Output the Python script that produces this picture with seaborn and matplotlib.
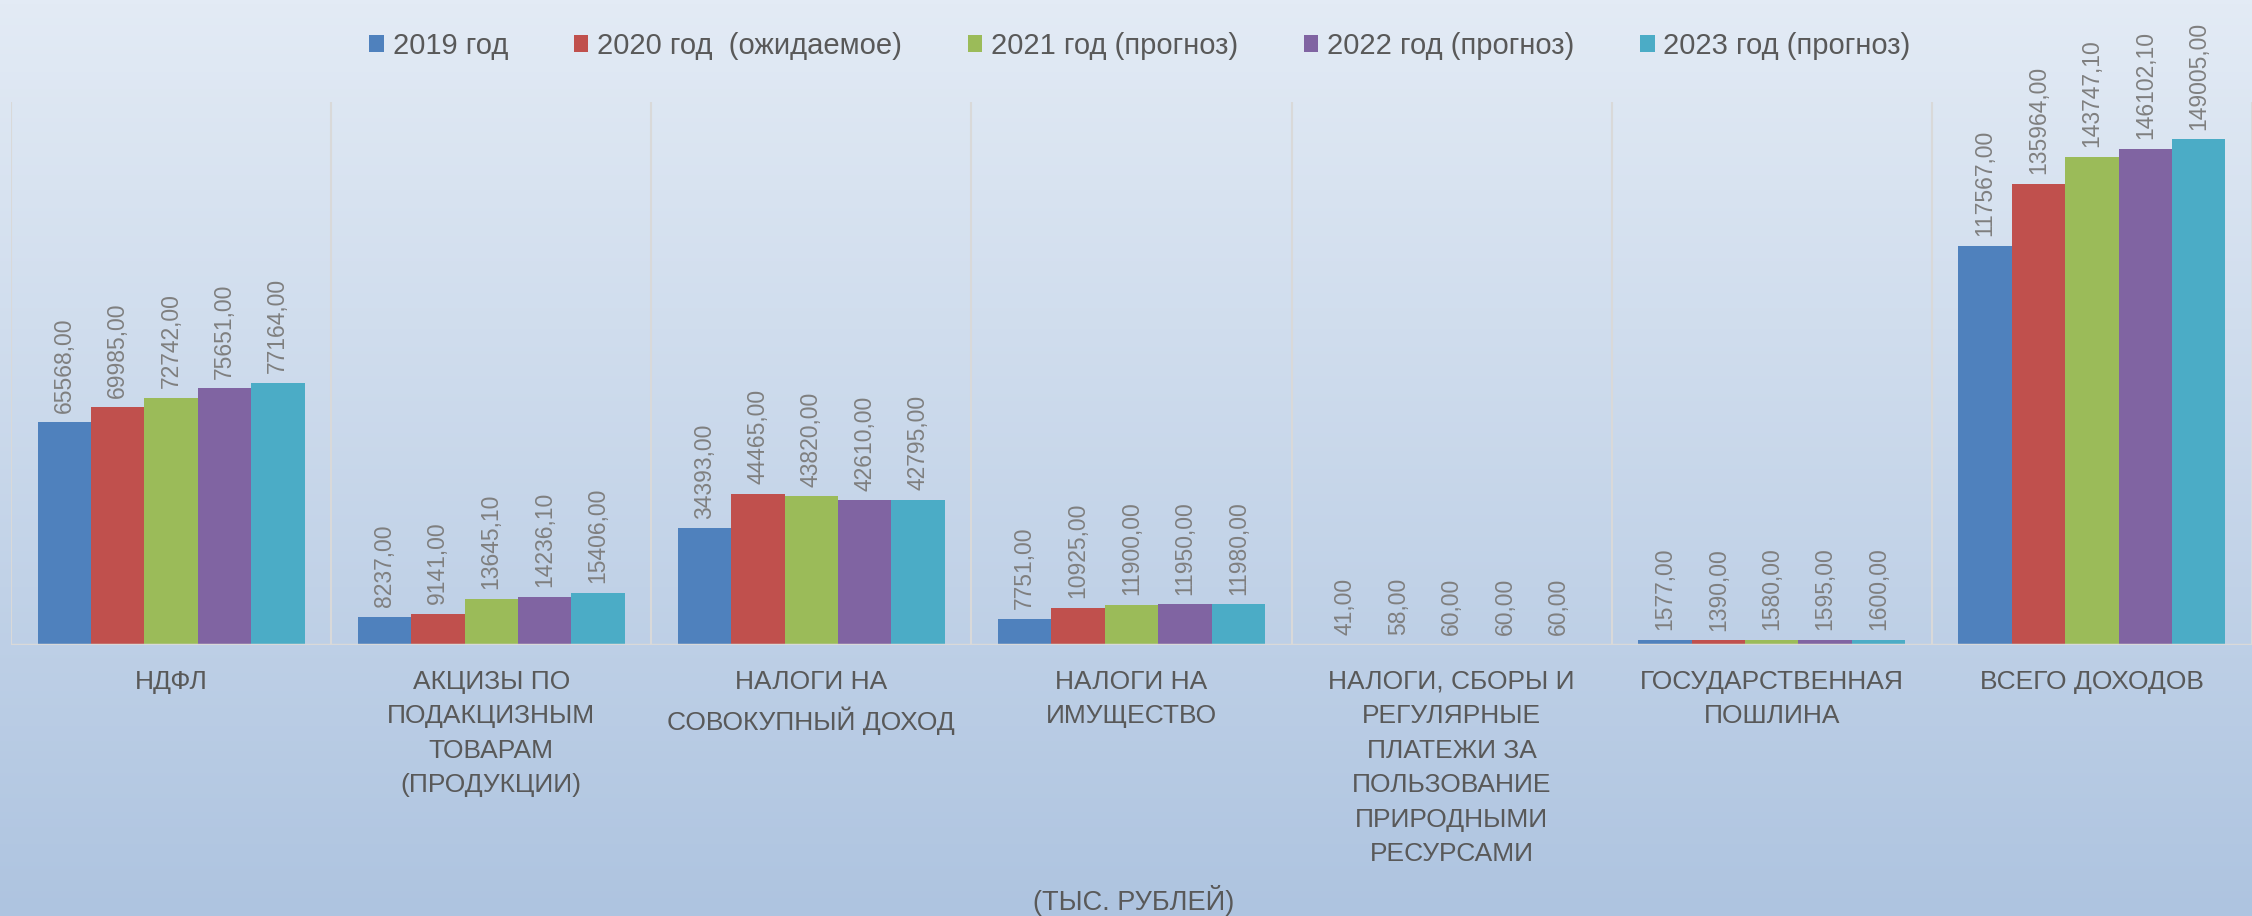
import numpy as np
import pandas as pd
import matplotlib
matplotlib.use('Agg')
import matplotlib.pyplot as plt
import seaborn as sns

sns.set_style('white')
plt.rcParams['font.family'] = ['Liberation Sans', 'DejaVu Sans']

# data (тыс. рублей)
categories = ['НДФЛ',
              'АКЦИЗЫ ПО\nПОДАКЦИЗНЫМ\nТОВАРАМ\n(ПРОДУКЦИИ)',
              'НАЛОГИ НА\nСОВОКУПНЫЙ ДОХОД',
              'НАЛОГИ НА\nИМУЩЕСТВО',
              'НАЛОГИ, СБОРЫ И\nРЕГУЛЯРНЫЕ\nПЛАТЕЖИ ЗА\nПОЛЬЗОВАНИЕ\nПРИРОДНЫМИ\nРЕСУРСАМИ',
              'ГОСУДАРСТВЕННАЯ\nПОШЛИНА',
              'ВСЕГО ДОХОДОВ']
years = ['2019 год', '2020 год  (ожидаемое)', '2021 год (прогноз)',
         '2022 год (прогноз)', '2023 год (прогноз)']
v2019 = [65568.00, 8237.00, 34393.00, 7751.00, 41.00, 1577.00, 117567.00]
v2020 = [69985.00, 9141.00, 44465.00, 10925.00, 58.00, 1390.00, 135964.00]
v2021 = [72742.00, 13645.10, 43820.00, 11900.00, 60.00, 1580.00, 143747.10]
v2022 = [75651.00, 14236.10, 42610.00, 11950.00, 60.00, 1595.00, 146102.10]
v2023 = [77164.00, 15406.00, 42795.00, 11980.00, 60.00, 1600.00, 149005.00]
colors = ['#4F81BD', '#C0504D', '#9BBB59', '#8064A2', '#4BACC6']

series = [v2019, v2020, v2021, v2022, v2023]
df = pd.DataFrame({
    'cat': np.tile(categories, len(years)),
    'year': np.repeat(years, len(categories)),
    'value': np.concatenate(series),
})

W, H = 2252, 916
fig = plt.figure(figsize=(W / 100, H / 100), dpi=100)

# gradient background
bg = fig.add_axes([0, 0, 1, 1], zorder=0)
grad = np.linspace(0, 1, 256)[:, None]
top = np.array([0xE3, 0xEB, 0xF5]) / 255
bot = np.array([0xAE, 0xC4, 0xE0]) / 255
img = top[None, None, :] * (1 - grad[:, :, None]) + bot[None, None, :] * grad[:, :, None]
bg.imshow(img, aspect='auto', extent=[0, 1, 0, 1])
bg.axis('off')

ax = fig.add_axes([11 / W, 1 - 645 / H, (W - 11) / W, (645 - 102) / H], zorder=1)
ax.patch.set_alpha(0)

sns.barplot(data=df, x='cat', y='value', hue='year', hue_order=years,
            order=categories, palette=colors, width=0.834, gap=0,
            linewidth=0, saturation=1, ax=ax, legend=True)

for cont, vals in zip(ax.containers, series):
    labels = [f'{v:.2f}'.replace('.', ',') for v in vals]
    ax.bar_label(cont, labels=labels, rotation=90, padding=7,
                 fontsize=16.5, color='#7F7F7F')

ax.set_xlim(-0.5, len(categories) - 0.5)
ax.set_ylim(0, 160000)
for i in range(len(categories) + 1):
    ax.axvline(i - 0.5, color='#D9D9D9', lw=1.5, zorder=0)
ax.axhline(0, color='#D9D9D9', lw=2.5, zorder=3)

ax.set_yticks([])
ax.set_ylabel('')
ax.set_xlabel('')
ax.tick_params(axis='x', length=0, pad=18, labelsize=19, labelcolor='#595959')
for t in ax.get_xticklabels():
    t.set_linespacing(1.55)
for s in ax.spines.values():
    s.set_visible(False)

ax.legend(loc='center', bbox_to_anchor=(1140 / W, 1 - 46 / H),
          bbox_transform=fig.transFigure, ncol=5, frameon=False,
          fontsize=21, handlelength=0.5, handleheight=0.5,
          handletextpad=0.3, columnspacing=2.25, labelcolor='#595959')

fig.text(1134 / W, 1 - 900 / H, '(ТЫС. РУБЛЕЙ)', ha='center', va='center',
         fontsize=19.5, color='#595959')

fig.savefig('out.png', dpi=100)
